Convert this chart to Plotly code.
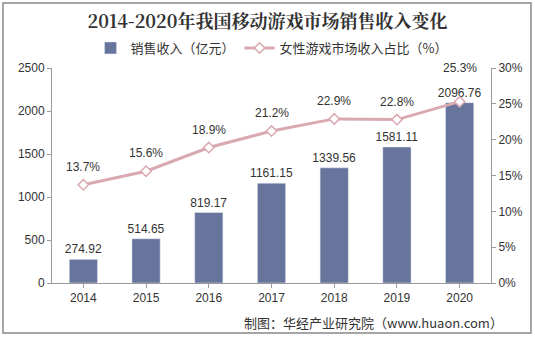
import plotly.graph_objects as go

years = [2014, 2015, 2016, 2017, 2018, 2019, 2020]
revenue = [274.92, 514.65, 819.17, 1161.15, 1339.56, 1581.11, 2096.76]
female_share = [13.7, 15.6, 18.9, 21.2, 22.9, 22.8, 25.3]
left_ticks = [0, 500, 1000, 1500, 2000, 2500]
right_ticks = [0, 5, 10, 15, 20, 25, 30]
label_shift = [18, 18, 18, 18, 18, 18, 34]

W, H = 535, 337
ml, mr, mt, mb = 52, 44, 68, 54
pw, ph = W - ml - mr, H - mt - mb

font = "Liberation Sans, Arial, Noto Sans CJK SC"

fig = go.Figure()
fig.add_trace(go.Bar(
    x=years, y=revenue, name="销售收入（亿元）",
    marker=dict(color="#67749c"), width=0.45,
    text=[f"{v:.2f}" for v in revenue], textposition="outside",
    constraintext="none",
    textfont=dict(size=12, color="#333333", family=font), cliponaxis=False,
))
fig.add_trace(go.Scatter(
    x=years, y=female_share, name="女性游戏市场收入占比（%）", yaxis="y2",
    mode="lines+markers",
    line=dict(color="#d9a9b2", width=3),
    marker=dict(symbol="diamond", size=8, color="white",
                line=dict(color="#d9a9b2", width=1.5)),
    cliponaxis=False,
))
for yr, v, s in zip(years, female_share, label_shift):
    fig.add_annotation(x=yr, y=v, xref="x", yref="y2", text=f"{v}%", showarrow=False,
                       yshift=s, font=dict(size=12, color="#333333", family=font))

fig.update_layout(
    width=W, height=H,
    margin=dict(l=ml, r=mr, t=mt, b=mb),
    paper_bgcolor="white", plot_bgcolor="white",
    font=dict(family=font, size=12, color="#333333"),
    title=dict(text="<b>2014-2020年我国移动游戏市场销售收入变化</b>",
               x=0.5, xanchor="center", y=1 - 22 / H, yanchor="middle",
               font=dict(size=18, color="#333333",
                         family="Noto Serif CJK SC, DejaVu Serif, serif")),
    legend=dict(orientation="h", x=0.5, xanchor="center", y=1 + 20 / ph,
                yanchor="middle", font=dict(size=13, color="#333333",
                                            family="Noto Sans CJK SC"),
                bgcolor="rgba(0,0,0,0)"),
    showlegend=True,
    xaxis=dict(range=[years[0] - 0.5, years[-1] + 0.5], tickvals=years,
               ticktext=[str(y) for y in years],
               showline=True, linecolor="#999999", ticks="outside",
               tickcolor="#999999", ticklen=4, showgrid=False, zeroline=False,
               tickfont=dict(size=12, color="#333333")),
    yaxis=dict(range=[0, 2500], tickvals=left_ticks, showline=True,
               linecolor="#999999", ticks="outside", tickcolor="#999999",
               ticklen=4, showgrid=False, zeroline=False,
               tickfont=dict(size=12, color="#333333")),
    yaxis2=dict(range=[0, 30], tickvals=right_ticks,
                ticktext=[f"{t}%" for t in right_ticks], overlaying="y",
                side="right", showline=True, linecolor="#999999",
                ticks="outside", tickcolor="#999999", ticklen=4,
                showgrid=False, zeroline=False,
                tickfont=dict(size=12, color="#333333")),
)

fig.add_annotation(text="制图：华经产业研究院（www.huaon.com）", xref="paper", yref="paper",
                   x=(505 - ml) / pw, xanchor="right", y=-(322 - mt - ph) / ph,
                   yanchor="middle", showarrow=False,
                   font=dict(size=13, color="#333333", family="Noto Sans CJK SC"))

fig.add_shape(type="rect", xref="paper", yref="paper",
              x0=(3 - ml) / pw, x1=(W - 4 - ml) / pw,
              y0=-(H - 4 - mt - ph) / ph, y1=1 + (mt - 3) / ph,
              line=dict(color="#888888", width=1.5), fillcolor="rgba(0,0,0,0)")

fig.write_html("out.html")
